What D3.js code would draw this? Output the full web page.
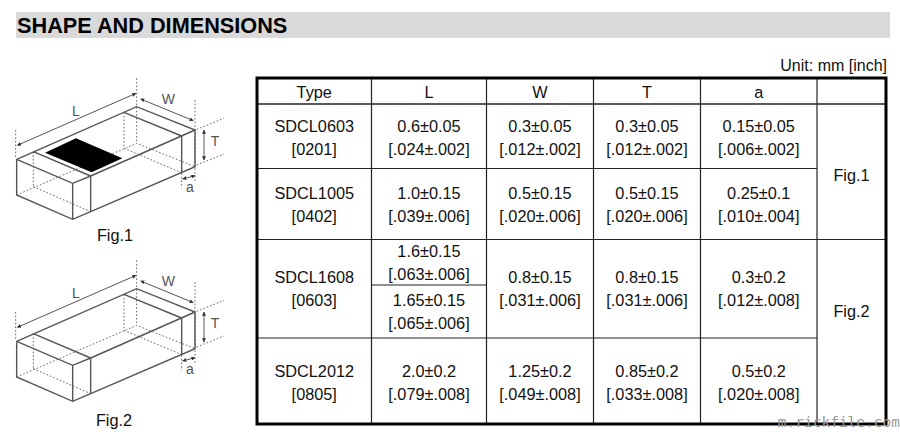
<!DOCTYPE html>
<html>
<head>
<meta charset="utf-8">
<script src="https://cdn.jsdelivr.net/npm/d3@7"></script>
<style>
html, body { margin: 0; padding: 0; background: #fff; }
svg { display: block; }
text { font-family: "Liberation Sans", Arial, sans-serif; fill: #111; }
</style>
</head>
<body>
<svg id="chart" width="900" height="439"></svg>
<script>
// table contents
const headers = ["Type", "L", "W", "T", "a"];
const types = ["SDCL0603", "SDCL1005", "SDCL1608", "SDCL2012"];
const inches = ["[0201]", "[0402]", "[0603]", "[0805]"];
const lengths = [
	["0.6±0.05", "[.024±.002]"],
	["1.0±0.15", "[.039±.006]"],
	["1.6±0.15", "[.063±.006]", "1.65±0.15", "[.065±.006]"],
	["2.0±0.2", "[.079±.008]"]
];
const widths = [
	["0.3±0.05", "[.012±.002]"],
	["0.5±0.15", "[.020±.006]"],
	["0.8±0.15", "[.031±.006]"],
	["1.25±0.2", "[.049±.008]"]
];
const thicks = [
	["0.3±0.05", "[.012±.002]"],
	["0.5±0.15", "[.020±.006]"],
	["0.8±0.15", "[.031±.006]"],
	["0.85±0.2", "[.033±.008]"]
];
const ends = [
	["0.15±0.05", "[.006±.002]"],
	["0.25±0.1", "[.010±.004]"],
	["0.3±0.2", "[.012±.008]"],
	["0.5±0.2", "[.020±.008]"]
];
const figNames = ["Fig.1", "Fig.2"];

// table layout
const colEdges = [257, 371.5, 486.5, 593.5, 700.5, 817, 886];
const rowEdges = [78, 104, 168.5, 239.5, 338, 424];
const rowCenters = [137.5, 204.5, 289, 382.5];
const figCenters = [175.5, 311.5];
const splitY = 285;
const lineGap = 23;

const svg = d3.select("#chart");

// title bar
svg.append("rect").attr("x", 16).attr("y", 12).attr("width", 874).attr("height", 26).attr("fill", "#d9d9d9");
svg.append("text").attr("x", 17).attr("y", 32.5)
	.attr("font-size", "21.7px").attr("font-weight", "bold").style("fill", "#000")
	.text("SHAPE AND DIMENSIONS");
svg.append("text").attr("x", 887).attr("y", 71)
	.attr("text-anchor", "end").attr("font-size", "16px")
	.text("Unit: mm [inch]");

const table = svg.append("g");

function hline(x1, x2, y, w) {
	table.append("line").attr("x1", x1).attr("x2", x2).attr("y1", y).attr("y2", y)
		.attr("stroke", "#222").attr("stroke-width", w);
}
function vline(x, y1, y2, w) {
	table.append("line").attr("x1", x).attr("x2", x).attr("y1", y1).attr("y2", y2)
		.attr("stroke", "#222").attr("stroke-width", w);
}
function cellText(cx, cy, lines) {
	lines.forEach((t, i) => {
		table.append("text")
			.attr("x", cx)
			.attr("y", cy + (i - (lines.length - 1) / 2) * lineGap + 5.5)
			.attr("text-anchor", "middle")
			.attr("font-size", "16.3px")
			.text(t);
	});
}

// inner grid
colEdges.slice(1, -1).forEach(x => vline(x, rowEdges[0], rowEdges[5], 1.2));
hline(colEdges[0], colEdges[6], rowEdges[1], 1.6);
hline(colEdges[0], colEdges[5], rowEdges[2], 1.2);
hline(colEdges[0], colEdges[6], rowEdges[3], 1.2);
hline(colEdges[0], colEdges[5], rowEdges[4], 1.2);
hline(colEdges[1], colEdges[2], splitY, 1.2);

// outer frame
table.append("rect")
	.attr("x", colEdges[0]).attr("y", rowEdges[0])
	.attr("width", colEdges[6] - colEdges[0]).attr("height", rowEdges[5] - rowEdges[0])
	.attr("fill", "none").attr("stroke", "#000").attr("stroke-width", 3);

const colMid = i => (colEdges[i] + colEdges[i + 1]) / 2;

headers.forEach((h, i) => cellText(colMid(i), 92, [h]));

types.forEach((t, i) => {
	const cy = rowCenters[i];
	cellText(colMid(0), cy, [t, inches[i]]);
	if (lengths[i].length == 4) {
		cellText(colMid(1), (rowEdges[i + 1] + splitY) / 2 + 0.5, lengths[i].slice(0, 2));
		cellText(colMid(1), (splitY + rowEdges[i + 2]) / 2 + 0.5, lengths[i].slice(2));
	} else {
		cellText(colMid(1), cy, lengths[i]);
	}
	cellText(colMid(2), cy, widths[i]);
	cellText(colMid(3), cy, thicks[i]);
	cellText(colMid(4), cy, ends[i]);
});
figNames.forEach((f, i) => cellText(colMid(5), figCenters[i], [f]));

// drawings, traced in 3x px
const solid = [
	[[50,268],[410,110],[585,180],[585,290],[272,425],[218,448],[50,375],[50,268]],
	[[50,268],[218,340],[272,318],[585,180]],
	[[218,340],[218,448]],
	[[272,318],[272,425]],
	[[545,198],[545,308]],
	[[100,245],[272,318]],
	[[372,127],[545,198]]
];
const dotted = [
	[[50,375],[410,220],[585,290]],
	[[100,245],[100,350]],
	[[372,127],[372,235]],
	[[100,350],[272,425]],
	[[372,235],[545,308]],
	[[410,25],[410,220]],
	[[47,180],[47,265]],
	[[585,90],[585,335]],
	[[590,178],[672,145]],
	[[590,285],[672,252]],
	[[545,310],[545,355]]
];
const arrows = [
	[[52,226],[408,70]],
	[[422,87],[580,152]],
	[[612,180],[612,270]],
	[[548,327],[585,317]]
];
const padPts = [[135,248],[228,205],[367,265],[275,307]];
const dimLabels = [
	{t: "L", x: 228, y: 137},
	{t: "W", x: 505, y: 101},
	{t: "T", x: 645, y: 227},
	{t: "a", x: 570, y: 366}
];

svg.append("defs").append("marker")
	.attr("id", "tip").attr("viewBox", "0 0 6 6").attr("refX", 5.5).attr("refY", 3)
	.attr("markerWidth", 4).attr("markerHeight", 4).attr("orient", "auto-start-reverse")
	.append("path").attr("d", "M0,0L6,3L0,6Z").attr("fill", "#333");

const xs = d3.scaleLinear().domain([0, 750]).range([0, 250]);
const ys = d3.scaleLinear().domain([0, 540]).range([0, 180]);
const line = d3.line().x(d => xs(d[0])).y(d => ys(d[1]));

function drawFig(top, hasPad, name, labelX, labelY) {
	const g = svg.append("g").attr("transform", "translate(0," + top + ")");
	dotted.forEach(p => g.append("path").attr("d", line(p)).attr("fill", "none")
		.attr("stroke", "#666").attr("stroke-width", 1).attr("stroke-dasharray", "1.6,2"));
	solid.forEach(p => g.append("path").attr("d", line(p)).attr("fill", "none")
		.attr("stroke", "#555").attr("stroke-width", 1.4));
	arrows.forEach(p => g.append("path").attr("d", line(p)).attr("fill", "none")
		.attr("stroke", "#555").attr("stroke-width", 1)
		.attr("marker-start", "url(#tip)").attr("marker-end", "url(#tip)"));
	if (hasPad) {
		g.append("path").attr("d", line(padPts) + "Z").attr("fill", "#000");
	}
	dimLabels.forEach(d => g.append("text")
		.attr("x", xs(d.x)).attr("y", ys(d.y))
		.attr("text-anchor", "middle").attr("font-size", "14px").style("fill", "#555")
		.text(d.t));
	svg.append("text").attr("x", labelX).attr("y", labelY)
		.attr("text-anchor", "middle").attr("font-size", "16.3px")
		.text(name);
}
drawFig(70, true, figNames[0], 115, 241);
drawFig(252, false, figNames[1], 114, 426);

// site mark in the corner
svg.append("text").attr("x", 900).attr("y", 427)
	.attr("text-anchor", "end")
	.attr("font-size", "14.5px").style("font-family", "'DejaVu Sans Mono', monospace")
	.style("fill", "#999")
	.text("m.rickfile.com");
</script>
</body>
</html>
